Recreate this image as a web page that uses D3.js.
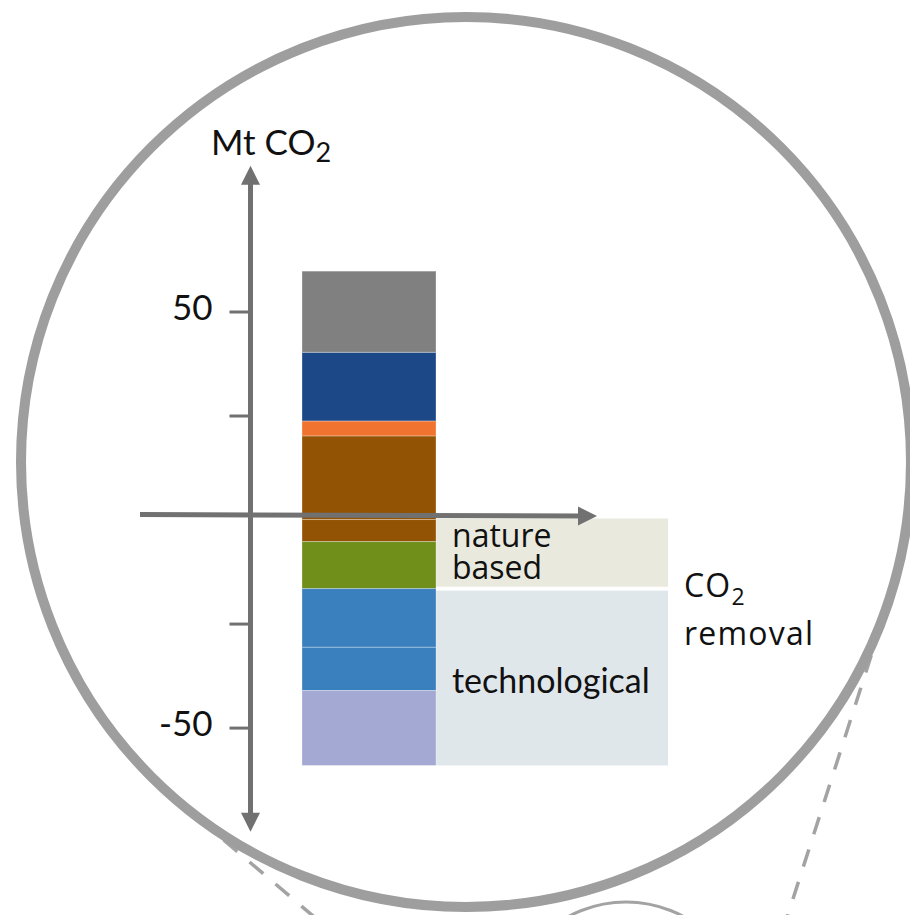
<!DOCTYPE html>
<html>
<head>
<meta charset="utf-8">
<script src="https://cdn.jsdelivr.net/npm/d3@7"></script>
<style>
  body { margin: 0; background: #fff; }
  svg { display: block; }
</style>
</head>
<body>
<div id="grafico"></div>
<script>
// Datos: un solo bar apilado (emisiones arriba, absorciones abajo)
var claves = ["land use", "industry", "energy", "remaining", "land sink", "forests", "beccs", "daccs", "other removals"];
var valores = [20.1, 3.6, 16.5, 19.5, -5.3, -11.3, -14.1, -10.4, -18.0];
var grupos = [null, null, null, null, "nature", "nature", "tech", "tech", "tech"];
var categorias = ["net"];
var ticksY = [50, 25, -25, -50];
var etiquetasY = ["50", "", "", "-50"];
var colores = ["#925304", "#f07430", "#1d4888", "#808080", "#925304", "#6f8e1a", "#3a7fbe", "#3a7fbe", "#a3a9d2"];

var width = 910, height = 915;
var svg = d3.select("#grafico").append("svg")
    .attr("width", width)
    .attr("height", height);

// La lupa: circulo grande, circulo pequeño abajo y las tangentes punteadas
var c1 = {x: 466, y: 462, r: 445},
    c2 = {x: 626, y: 1023, r: 121};
var dx = c2.x - c1.x, dy = c2.y - c1.y, dist = Math.sqrt(dx * dx + dy * dy);
var ux = dx / dist, uy = dy / dist, cosT = (c1.r - c2.r) / dist, sinT = Math.sqrt(1 - cosT * cosT);
[1, -1].forEach(function(s) {
  var nx = ux * cosT - s * uy * sinT,
      ny = uy * cosT + s * ux * sinT;
  svg.append("line")
     .attr("x1", c1.x + c1.r * nx).attr("y1", c1.y + c1.r * ny)
     .attr("x2", c2.x + c2.r * nx).attr("y2", c2.y + c2.r * ny)
     .attr("stroke", "#a3a3a3")
     .attr("stroke-width", 3.5)
     .attr("stroke-dasharray", "18,16")
     .attr("stroke-dashoffset", 8);
});
svg.append("circle")
   .attr("cx", c2.x).attr("cy", c2.y).attr("r", c2.r)
   .attr("fill", "none").attr("stroke", "#a3a3a3").attr("stroke-width", 3);
svg.append("circle")
   .attr("cx", c1.x).attr("cy", c1.y).attr("r", c1.r)
   .attr("fill", "none").attr("stroke", "#9e9e9e").attr("stroke-width", 10);

// Escalas
var y = d3.scaleLinear().domain([-50, 50]).range([727.6, 311.5]);
var x = d3.scaleBand().domain(categorias).range([302, 436]).padding(0);
var z = d3.scaleOrdinal().domain(claves).range(colores);
var axisX = 250.5, ejeColor = "#717171";
var cajaDerecha = 668;

// Una fila con todos los valores para el stack divergente
var fila = {cat: categorias[0]};
claves.forEach(function(k, i) { fila[k] = valores[i]; });
var series = d3.stack().keys(claves).offset(d3.stackOffsetDiverging)([fila]);

// Cajas de fondo para las absorciones
var cajas = [
  {id: "nature", texto: ["nature", "based"]},
  {id: "tech", texto: ["technological"]}
];
cajas.forEach(function(c, i) {
  var s = series.filter(function(d, j) { return grupos[j] === c.id; });
  c.arriba = d3.max(s, function(d) { return d[0][1]; });
  c.abajo = d3.min(s, function(d) { return d[0][0]; });
  c.y0 = y(c.arriba) + (i > 0 ? 2 : -1);
  c.y1 = y(c.abajo) - (i < cajas.length - 1 ? 2 : 0);
});

svg.append("g").selectAll("rect")
   .data(cajas)
   .enter().append("rect")
   .attr("x", x.range()[1])
   .attr("y", function(d) { return d.y0; })
   .attr("width", cajaDerecha - x.range()[1])
   .attr("height", function(d) { return d.y1 - d.y0; })
   .attr("fill", function(d) { return d.id === "nature" ? "#e9e9dd" : "#e0e7eb"; });

// Barras apiladas
svg.append("g")
   .selectAll("g")
   .data(series)
   .enter().append("g")
   .attr("fill", function(d) { return z(d.key); })
   .selectAll("rect")
   .data(function(d) { return d; })
   .enter().append("rect")
   .attr("x", function(d) { return x(d.data.cat); })
   .attr("y", function(d) { return y(d[1]); })
   .attr("height", function(d) { return y(d[0]) - y(d[1]); })
   .attr("width", x.bandwidth())
   .attr("stroke", "rgba(255,255,255,0.3)")
   .attr("stroke-width", 1);

// Eje y con ticks
var gy = svg.append("g")
   .attr("transform", "translate(" + axisX + ",0)")
   .call(d3.axisLeft(y)
        .tickValues(ticksY)
        .tickFormat(function(d, i) { return etiquetasY[i]; })
        .tickSize(21)
        .tickPadding(17));
gy.select(".domain").remove();
gy.selectAll(".tick line").attr("stroke", ejeColor).attr("stroke-width", 3);
gy.selectAll(".tick text")
  .attr("dy", "0.23em")
  .attr("font-family", "Lato")
  .attr("font-size", 35)
  .attr("fill", "#111");

// Flechas de los ejes
var yTop = y(85), yBot = y(-75), ah = 19, aw = 9.5;
svg.append("line")
   .attr("x1", axisX).attr("x2", axisX)
   .attr("y1", yTop + ah - 1).attr("y2", yBot - ah + 1)
   .attr("stroke", ejeColor).attr("stroke-width", 5);
svg.append("path")
   .attr("d", "M" + axisX + "," + yTop + "L" + (axisX + aw) + "," + (yTop + ah) + "L" + (axisX - aw) + "," + (yTop + ah) + "Z")
   .attr("fill", ejeColor);
svg.append("path")
   .attr("d", "M" + axisX + "," + yBot + "L" + (axisX + aw) + "," + (yBot - ah) + "L" + (axisX - aw) + "," + (yBot - ah) + "Z")
   .attr("fill", ejeColor);

var xl = 140, xr = 597, yl = y(0) - 5, yr = y(0) - 3.5;
svg.append("line")
   .attr("x1", xl).attr("y1", yl)
   .attr("x2", xr - ah + 1).attr("y2", yr)
   .attr("stroke", ejeColor).attr("stroke-width", 5);
svg.append("path")
   .attr("d", "M" + xr + "," + yr + "L" + (xr - ah) + "," + (yr - aw) + "L" + (xr - ah) + "," + (yr + aw) + "Z")
   .attr("fill", ejeColor);

// Titulo del eje
var tit = svg.append("text")
   .attr("x", 211).attr("y", 155)
   .attr("font-family", "Lato").attr("font-size", 35).attr("fill", "#111");
tit.append("tspan").text("Mt CO");
tit.append("tspan").attr("font-size", 27).attr("dy", 7).text("2");

// Etiquetas de las cajas
var xTexto = x.range()[1] + 16;
svg.append("text")
   .attr("font-family", "Open Sans").attr("font-size", 32).attr("fill", "#111")
   .selectAll("tspan")
   .data(cajas[0].texto)
   .enter().append("tspan")
   .attr("x", xTexto)
   .attr("y", function(d, i) { return cajas[0].y0 + 28.5 + i * 31.6; })
   .text(function(d) { return d; });

svg.append("text")
   .attr("x", xTexto)
   .attr("y", (cajas[1].y0 + cajas[1].y1) / 2 + 15)
   .attr("font-family", "Lato").attr("font-size", 34).attr("fill", "#111")
   .text(cajas[1].texto[0]);

var rem = svg.append("text")
   .attr("font-family", "Open Sans").attr("font-size", 32)
   .attr("letter-spacing", 1.2).attr("fill", "#111");
rem.append("tspan").attr("x", cajaDerecha + 16).attr("y", 597).text("CO");
rem.append("tspan").attr("font-size", 23).attr("dy", 8).text("2");
rem.append("tspan").attr("x", cajaDerecha + 16).attr("y", 644.5).text("removal");
</script>
</body>
</html>
